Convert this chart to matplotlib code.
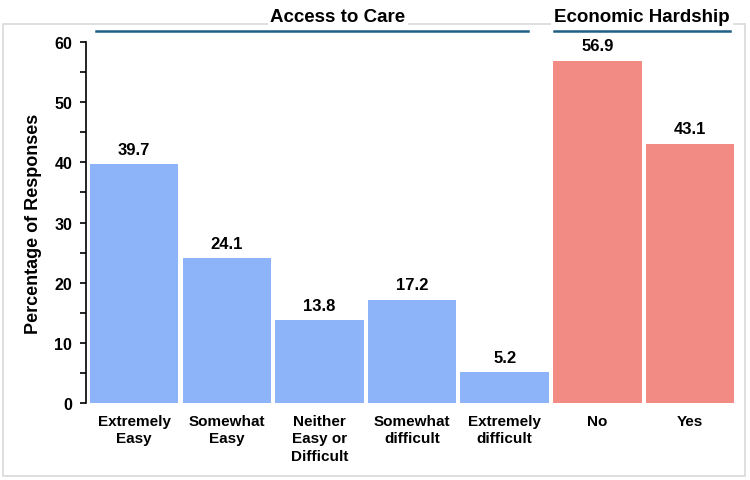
import matplotlib.pyplot as plt
from matplotlib.patches import Rectangle
from matplotlib.lines import Line2D
from matplotlib.ticker import MultipleLocator

# data
categories = ['Extremely\nEasy', 'Somewhat\nEasy', 'Neither\nEasy or\nDifficult',
              'Somewhat\ndifficult', 'Extremely\ndifficult', 'No', 'Yes']
values = [39.7, 24.1, 13.8, 17.2, 5.2, 56.9, 43.1]
groups = ['access', 'access', 'access', 'access', 'access', 'hardship', 'hardship']
group_titles = {'access': 'Access to Care', 'hardship': 'Economic Hardship'}

colors = {'access': '#8DB4F8', 'hardship': '#F28B84'}

plt.rcParams['font.family'] = ['Liberation Sans', 'DejaVu Sans']
plt.rcParams['font.weight'] = 'bold'

fig = plt.figure(figsize=(7.5, 4.81), dpi=100)
ax = fig.add_axes([0.1147, 0.160, 0.867, 0.7506])

# light grey frame around the whole chart
fig.patches.append(Rectangle((0.004, 0.008), 0.989, 0.94, transform=fig.transFigure,
                             fill=False, edgecolor='#d9d9d9', linewidth=1.2))

x = range(len(values))
bars = ax.bar(x, values, width=0.955, color=[colors[g] for g in groups], edgecolor='none')
for xi, v in zip(x, values):
    ax.text(xi, v + 1.2, f'{v:.1f}', ha='center', va='bottom', fontsize=12, fontweight='bold')

ax.set_xlim(-0.52, 6.5)
ax.set_ylim(0, 60)
ax.set_xticks(list(x))
ax.set_xticklabels(categories, fontsize=11, fontweight='bold', va='top', linespacing=1.3)
ax.tick_params(axis='x', length=0, pad=8)
ax.yaxis.set_major_locator(MultipleLocator(10))
ax.yaxis.set_minor_locator(MultipleLocator(5))
ax.tick_params(axis='y', which='both', direction='out', length=4, width=1.2, labelsize=11.5, pad=6)
for lbl in ax.get_yticklabels():
    lbl.set_fontweight('bold')
ax.set_ylabel('Percentage of Responses', fontsize=13, fontweight='bold', labelpad=9)

for s in ['top', 'right', 'bottom']:
    ax.spines[s].set_visible(False)
ax.spines['left'].set_linewidth(1.2)
ax.spines['left'].set_position(('data', -0.52))

# group headers with underline
line_y = 1 - 32 / 481
text_y = 1 - 18 / 481
headers = [('access', 96, 528, 338), ('hardship', 554, 730, 642)]
for g, x0, x1, xc in headers:
    fig.add_artist(Line2D([x0 / 750, x1 / 750], [line_y, line_y], transform=fig.transFigure,
                          color='#1F5F85', linewidth=1.8))
    fig.text(xc / 750, text_y, group_titles[g],
             ha='center', va='center', fontsize=13.5, fontweight='bold',
             bbox=dict(facecolor='white', edgecolor='none', pad=2))

fig.savefig('out.png', dpi=100)
